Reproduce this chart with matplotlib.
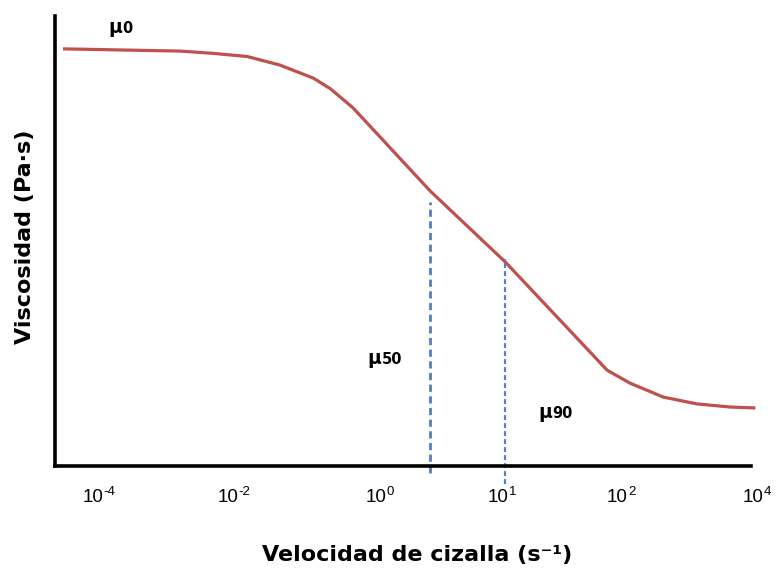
import matplotlib
matplotlib.use("Agg")
import matplotlib.pyplot as plt

# Schematic flow curve: shear rate position (axis units) vs viscosity (relative units)
rate_pos = [1.15, 11.2, 18.0, 22.7, 27.6, 32.3, 37.1, 39.5, 42.8, 53.9, 64.7,
            79.3, 82.6, 87.4, 92.2, 97.0, 100.6]
viscosity = [92.7, 92.4, 92.2, 91.7, 91.0, 89.1, 86.2, 83.9, 79.6, 61.1, 45.3,
             21.3, 18.4, 15.3, 13.8, 13.1, 12.9]

# Tick positions along the shear-rate axis, with decade exponents
tick_pos = [6.0, 25.4, 47.1, 64.7, 81.8, 101.3]
tick_exp = ["-4", "-2", "0", "1", "2", "4"]

# Reference viscosities marked with dashed verticals
mu50_pos, mu50_top, mu50_bottom = 53.9, 58.7, -1.6
mu90_pos, mu90_top, mu90_bottom = 64.7, 46.0, -4.0

RED = "#c0504d"
BLUE = "#4f81bd"

fig = plt.figure(figsize=(7.82, 5.74), dpi=100)
W, H = 782, 574
ax = fig.add_axes([55 / W, (574 - 466) / H, (770 - 55) / W, (466 - 16) / H])
ax.set_xlim(0, 102.7)
ax.set_ylim(0, 100)

ax.plot(rate_pos, viscosity, color=RED, lw=2.3, solid_capstyle="butt",
        solid_joinstyle="round", clip_on=False)

ax.plot([mu50_pos, mu50_pos], [mu50_bottom, mu50_top], color=BLUE, lw=2.0,
        dashes=(2.6, 1.6), clip_on=False)
ax.plot([mu90_pos, mu90_pos], [mu90_bottom, mu90_top], color=BLUE, lw=1.6,
        dashes=(2.2, 1.4), clip_on=False)

for s in ["top", "right"]:
    ax.spines[s].set_visible(False)
for s in ["left", "bottom"]:
    ax.spines[s].set_linewidth(2.6)
    ax.spines[s].set_color("black")
ax.spines["bottom"].set_bounds(0, 100)
ax.spines["left"].set_bounds(0, 100)

ax.set_yticks([])
ax.set_xticks([])
for p, e in zip(tick_pos, tick_exp):
    shift = 4.5 if e.startswith("-") else 2.5
    ax.annotate("10", xy=(p, 0), xytext=(shift, -23), textcoords="offset points",
                ha="right", va="center", fontsize=13.5, fontfamily="Liberation Sans",
                annotation_clip=False)
    ax.annotate(e, xy=(p, 0), xytext=(shift + 0.2, -19), textcoords="offset points",
                ha="left", va="center", fontsize=9.5, fontfamily="Liberation Sans",
                annotation_clip=False)

fig.text(417 / W, 1 - 555 / H, "Velocidad de cizalla (s\u207b\u00b9)", ha="center",
         va="center", fontsize=16, fontweight="bold", fontfamily="DejaVu Sans")
fig.text(25 / W, 1 - 237 / H, "Viscosidad (Pa\u00b7s)", ha="center", va="center",
         rotation=90, fontsize=16, fontweight="bold", fontfamily="DejaVu Sans")


def mu_label(x, y, sub):
    ax.text(x, y, "\u03bc", ha="left", va="baseline", fontsize=13.5, fontweight="bold",
            clip_on=False)
    ax.annotate(sub, xy=(x, y), xytext=(10, 0), textcoords="offset points",
                ha="left", va="baseline", fontsize=10.5, fontweight="bold",
                annotation_clip=False)


mu_label(7.6, 96.2, "0")
mu_label(44.9, 22.7, "50")
mu_label(69.4, 10.7, "90")

fig.savefig("out.png", dpi=100, facecolor="white")
